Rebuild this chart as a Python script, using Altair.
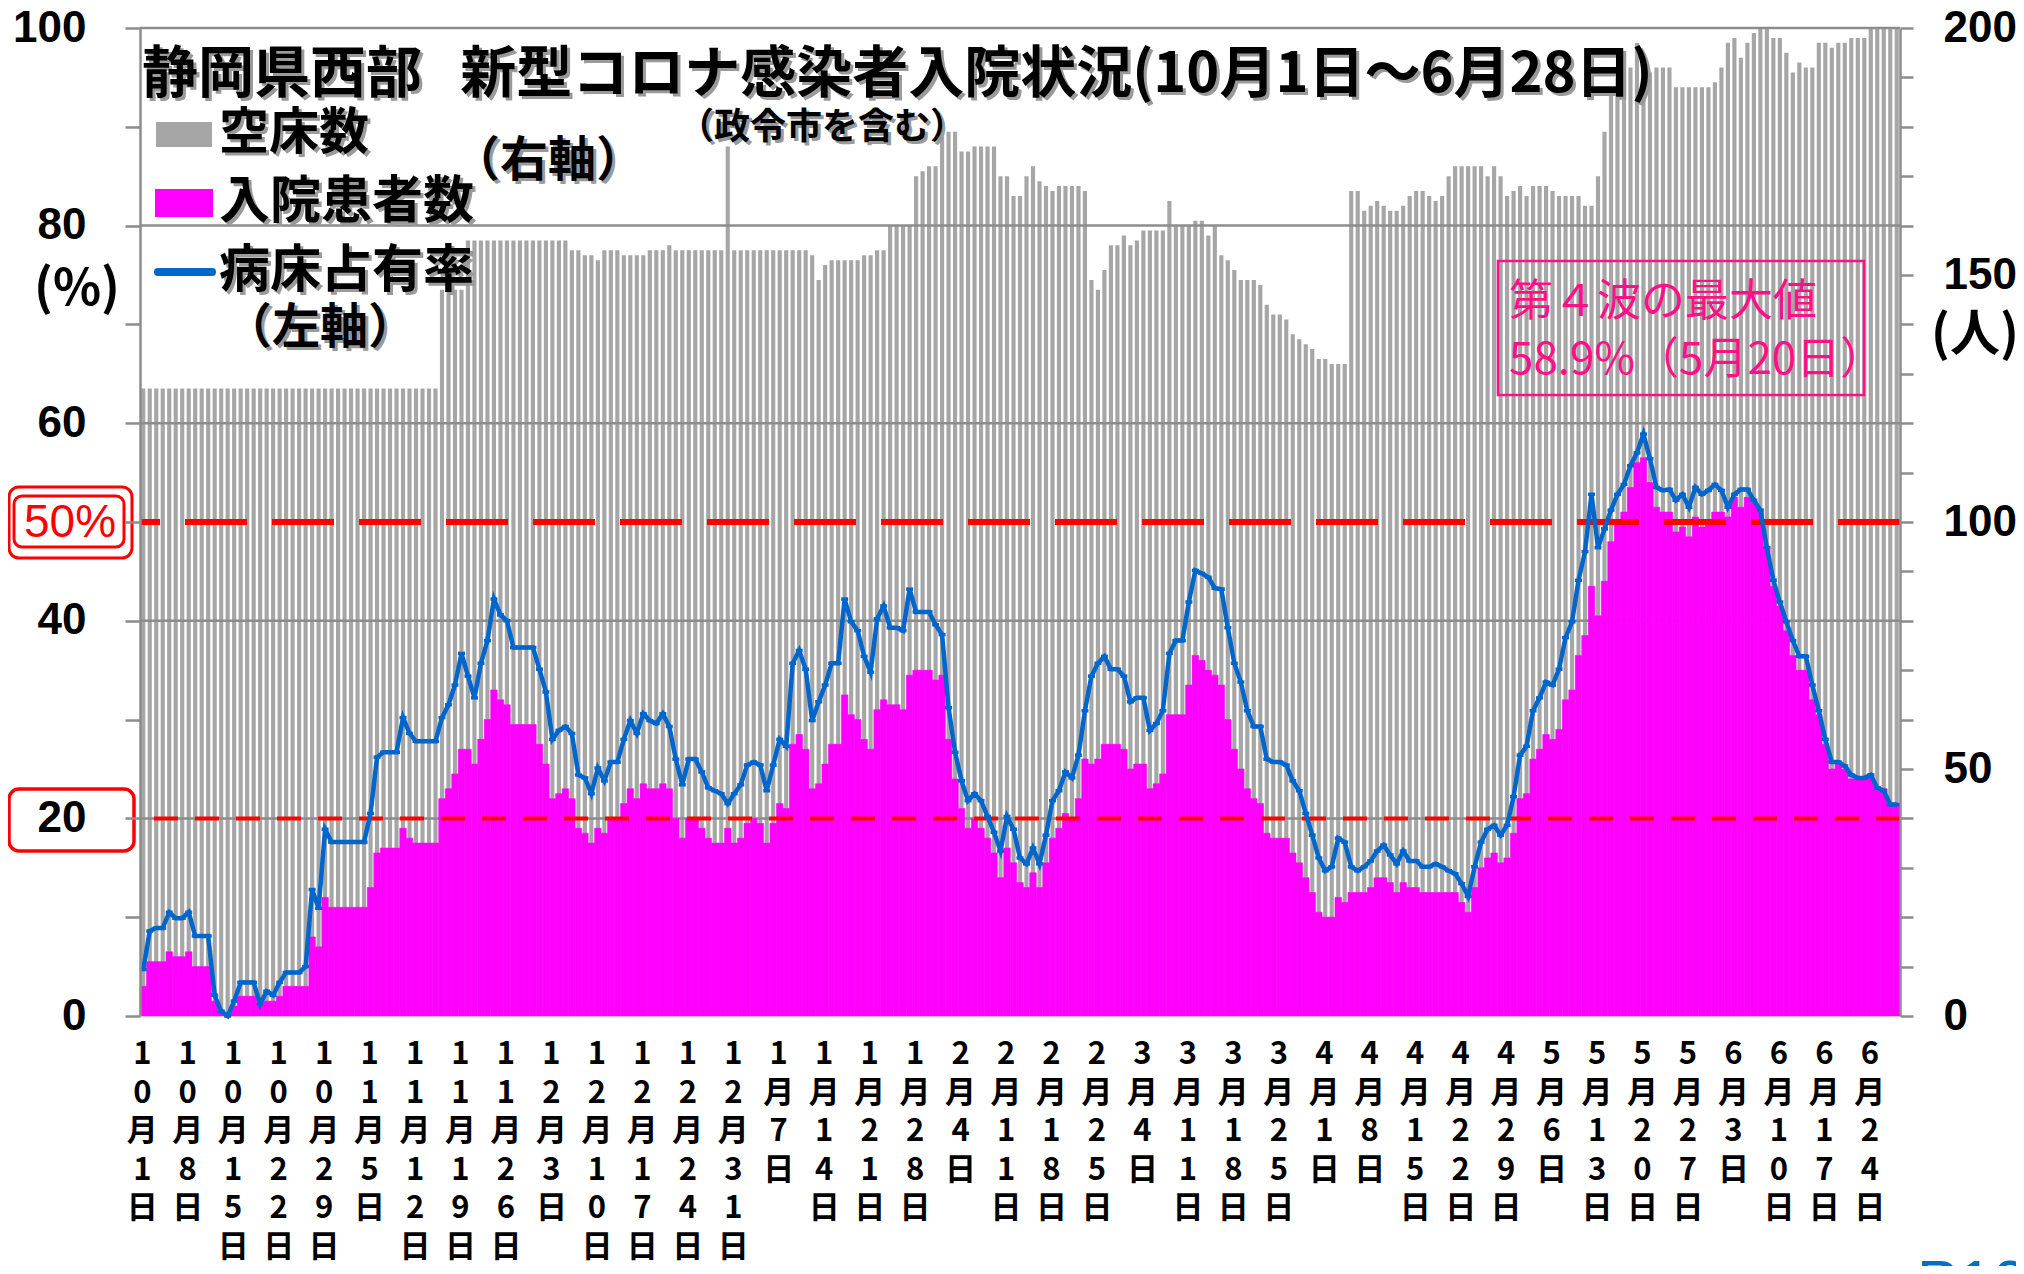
import altair as alt
import pandas as pd

# ---------------- data ----------------
rate = [
    4.7, 8.6, 8.9, 8.9, 10.5, 9.9, 9.9, 10.5, 8.1, 8.1,
    8.1, 2.1, 0.5, 0.0, 1.5, 3.4, 3.4, 3.4, 1.2, 2.5,
    2.1, 3.4, 4.4, 4.4, 4.4, 5.0, 12.8, 10.9, 18.9, 17.6,
    17.6, 17.6, 17.6, 17.6, 17.6, 20.5, 26.2, 26.7, 26.7, 26.7,
    30.2, 28.6, 27.8, 27.8, 27.8, 27.8, 30.2, 31.5, 33.5, 36.7,
    34.4, 32.2, 35.7, 38.0, 42.2, 40.6, 40.0, 37.3, 37.3, 37.3,
    37.3, 35.1, 32.8, 28.0, 28.9, 29.3, 28.6, 24.4, 24.1, 22.5,
    25.1, 23.8, 25.7, 25.7, 28.0, 29.9, 28.6, 30.6, 29.9, 29.6,
    30.6, 29.3, 26.0, 23.4, 26.0, 26.0, 24.7, 23.1, 22.8, 22.5,
    21.5, 22.5, 23.4, 25.4, 25.7, 25.4, 22.8, 25.4, 28.0, 27.3,
    35.7, 37.0, 35.1, 29.9, 31.8, 33.5, 35.7, 35.7, 42.2, 39.9,
    39.0, 36.4, 34.8, 40.2, 41.5, 39.3, 39.3, 39.0, 43.2, 40.9,
    40.9, 40.9, 39.6, 38.6, 31.2, 26.7, 23.8, 21.8, 22.5, 21.8,
    20.2, 18.6, 16.7, 20.2, 18.9, 16.0, 15.4, 17.0, 15.4, 18.3,
    21.8, 22.8, 24.7, 24.1, 26.4, 30.9, 34.4, 35.7, 36.4, 35.1,
    35.1, 34.4, 31.8, 32.2, 32.2, 28.9, 29.6, 30.9, 36.7, 38.0,
    38.0, 41.9, 45.1, 44.8, 44.4, 43.3, 43.2, 39.3, 35.7, 33.8,
    30.9, 29.3, 29.3, 26.0, 25.7, 25.7, 25.4, 23.8, 22.8, 20.5,
    18.3, 16.0, 14.7, 15.1, 18.0, 17.6, 15.1, 14.7, 15.1, 15.7,
    16.7, 17.3, 16.3, 15.4, 16.7, 15.7, 15.7, 15.1, 15.1, 15.4,
    15.1, 14.7, 14.4, 13.4, 12.1, 15.1, 17.6, 18.9, 19.3, 18.3,
    19.3, 22.2, 26.4, 27.3, 30.9, 32.2, 33.8, 33.5, 35.1, 38.3,
    39.9, 44.1, 47.0, 52.8, 47.4, 49.3, 51.2, 52.8, 53.8, 55.7,
    57.0, 58.9, 56.4, 53.5, 53.2, 53.3, 52.2, 52.8, 51.5, 53.5,
    52.8, 53.2, 53.8, 53.2, 51.5, 52.8, 53.3, 53.3, 52.2, 51.2,
    47.4, 44.1, 41.9, 39.9, 38.0, 36.4, 36.4, 33.5, 30.9, 28.0,
    25.7, 25.7, 25.3, 24.4, 24.1, 24.1, 24.4, 23.1, 22.8, 21.4,
    21.4,
]

capacity = [
    127, 127, 127, 127, 127, 127, 127, 127, 127, 127,
    127, 127, 127, 127, 127, 127, 127, 127, 127, 127,
    127, 127, 127, 127, 127, 127, 127, 127, 127, 127,
    127, 127, 127, 127, 127, 127, 127, 127, 127, 127,
    127, 127, 127, 127, 127, 127, 147, 147, 147, 147,
    157, 157, 157, 157, 157, 157, 157, 157, 157, 157,
    157, 157, 157, 157, 157, 157, 155, 155, 154, 154,
    153, 155, 155, 155, 154, 154, 154, 154, 155, 155,
    155, 156, 155, 155, 155, 155, 155, 155, 155, 155,
    176, 155, 155, 155, 155, 155, 155, 155, 155, 155,
    155, 155, 155, 154, 149, 152, 153, 153, 153, 153,
    153, 154, 154, 155, 155, 160, 160, 160, 160, 170,
    171, 172, 172, 178, 179, 179, 175, 175, 176, 176,
    176, 176, 170, 170, 166, 166, 170, 172, 169, 168,
    167, 168, 168, 168, 168, 167, 149, 147, 151, 156,
    156, 158, 156, 157, 159, 159, 159, 159, 165, 160,
    160, 160, 161, 161, 158, 160, 154, 153, 151, 149,
    149, 149, 148, 144, 142, 142, 141, 138, 137, 136,
    135, 133, 133, 132, 132, 132, 167, 167, 163, 164,
    165, 164, 163, 163, 164, 166, 167, 167, 166, 165,
    166, 170, 172, 172, 172, 172, 172, 170, 172, 170,
    166, 167, 168, 166, 168, 168, 168, 167, 166, 166,
    166, 166, 164, 164, 170, 179, 187, 190, 190, 192,
    197, 192, 191, 192, 192, 192, 188, 188, 188, 188,
    188, 188, 189, 192, 197, 198, 194, 197, 199, 200,
    200, 198, 198, 195, 191, 193, 192, 192, 197, 197,
    196, 197, 197, 198, 198, 198, 200, 200, 200, 200,
    200,
]

inpatients = [
    6, 11, 11, 11, 13, 12, 12, 13, 10, 10,
    10, 3, 1, 0, 2, 4, 4, 4, 2, 3,
    3, 4, 6, 6, 6, 6, 16, 14, 24, 22,
    22, 22, 22, 22, 22, 26, 33, 34, 34, 34,
    38, 36, 35, 35, 35, 35, 44, 46, 49, 54,
    54, 51, 56, 60, 66, 64, 63, 59, 59, 59,
    59, 55, 51, 44, 45, 46, 44, 38, 37, 35,
    38, 37, 40, 40, 43, 46, 44, 47, 46, 46,
    47, 46, 40, 36, 40, 40, 38, 36, 35, 35,
    38, 35, 36, 39, 40, 39, 35, 39, 43, 42,
    55, 57, 54, 46, 47, 51, 55, 55, 65, 61,
    60, 56, 54, 62, 64, 63, 63, 62, 69, 70,
    70, 70, 68, 69, 56, 48, 42, 38, 40, 38,
    36, 33, 28, 34, 31, 27, 26, 29, 26, 31,
    36, 38, 41, 40, 44, 52, 51, 52, 55, 55,
    55, 54, 50, 51, 51, 46, 47, 49, 61, 61,
    61, 67, 73, 72, 70, 69, 67, 60, 54, 50,
    46, 44, 43, 37, 36, 36, 36, 33, 31, 28,
    25, 21, 20, 20, 24, 23, 25, 25, 25, 26,
    28, 28, 27, 25, 27, 26, 26, 25, 25, 25,
    25, 25, 25, 23, 21, 26, 30, 32, 33, 31,
    32, 37, 44, 45, 52, 54, 57, 56, 58, 64,
    66, 73, 77, 87, 81, 88, 96, 100, 102, 107,
    112, 113, 108, 103, 102, 102, 98, 99, 97, 101,
    99, 100, 102, 102, 101, 105, 103, 105, 104, 102,
    95, 87, 83, 78, 73, 70, 70, 64, 61, 55,
    50, 51, 50, 48, 48, 48, 49, 46, 46, 43,
    43,
]

tick_days = [0, 7, 14, 21, 28, 35, 42, 49, 56, 63, 70, 77, 84, 91, 98, 105,
             112, 119, 126, 133, 140, 147, 154, 161, 168, 175, 182, 189, 196,
             203, 210, 217, 224, 231, 238, 245, 252, 259, 266]
tick_labels = ["10月1日", "10月8日", "10月15日", "10月22日", "10月29日",
               "11月5日", "11月12日", "11月19日", "11月26日", "12月3日",
               "12月10日", "12月17日", "12月24日", "12月31日", "1月7日",
               "1月14日", "1月21日", "1月28日", "2月4日", "2月11日",
               "2月18日", "2月25日", "3月4日", "3月11日", "3月18日",
               "3月25日", "4月1日", "4月8日", "4月15日", "4月22日",
               "4月29日", "5月6日", "5月13日", "5月20日", "5月27日",
               "6月3日", "6月10日", "6月17日", "6月24日"]

pct_ticks = [0, 10, 20, 30, 40, 50, 60, 70, 80, 90, 100]
ppl_ticks = [0, 10, 20, 30, 40, 50, 60, 70, 80, 90, 100, 110, 120, 130, 140,
             150, 160, 170, 180, 190, 200]
grid_values = [20, 40, 60, 80, 100]
threshold_50 = [50]
threshold_20 = [20]

# ---------------- chart ----------------
W, H = 1760, 988
FONT_LAT = "Liberation Sans"
FONT_CJK = "Noto Sans CJK JP"
GRAY = "#A6A6A6"
MAGENTA = "#FF00FF"
BLUE = "#0066CC"
RED = "#FF0000"
PINK = "#FF1088"
AXIS_GRAY = "#8C8C8C"

df = pd.DataFrame({"day": list(range(len(rate))), "rate": rate,
                   "cap": capacity, "inp": inpatients})

xscale = alt.Scale(domain=[0, 271], nice=False, zero=False)
pct = alt.Scale(domain=[0, 100], nice=False, zero=True)
ppl = alt.Scale(domain=[0, 200], nice=False, zero=True)

one = alt.Data(values=[{"a": 1}])

x_axis = alt.Axis(values=tick_days, labels=False, tickSize=11, tickWidth=2.5,
                  tickColor=AXIS_GRAY, domainColor=AXIS_GRAY, domainWidth=3,
                  grid=False, title=None, zindex=1)
right_axis = alt.Axis(orient="right", values=ppl_ticks,
                      labelExpr="datum.value % 50 === 0 ? datum.label : ''",
                      tickSize=13, tickWidth=2.5, tickColor=AXIS_GRAY,
                      domainColor=AXIS_GRAY, domainWidth=2.5, grid=False,
                      title=None, labelFont=FONT_LAT, labelFontSize=44,
                      labelFontWeight="bold", labelColor="black",
                      labelPadding=30, labelOverlap=False, zindex=1)
left_axis = alt.Axis(orient="left", values=pct_ticks,
                     labelExpr="datum.value % 20 === 0 ? datum.label : ''",
                     tickSize=15, tickWidth=2.5, tickColor=AXIS_GRAY,
                     domainColor=AXIS_GRAY, domainWidth=2.5, grid=False,
                     title=None, labelFont=FONT_LAT, labelFontSize=44,
                     labelFontWeight="bold", labelColor="black",
                     labelPadding=39, labelOverlap=False, zindex=1)

# empty beds + patients: gray column up to total beds (right axis)
gray_bars = alt.Chart(df).transform_calculate(
    xl="datum.day + 0.18", xr="datum.day + 0.82", base="0"
).mark_rect(color=GRAY).encode(
    x=alt.X("xl:Q", scale=xscale, axis=x_axis),
    x2="xr:Q",
    y=alt.Y("cap:Q", scale=ppl, axis=right_axis),
    y2="base:Q",
)

grid = alt.Chart(pd.DataFrame({"v": grid_values})).mark_rule(
    color=AXIS_GRAY, strokeWidth=2.5
).encode(y=alt.Y("v:Q", scale=pct, axis=None))

mag_bars = alt.Chart(df).transform_calculate(
    xl="datum.day", xr="datum.day + 1", base="0"
).mark_rect(color=MAGENTA, stroke=MAGENTA, strokeWidth=0.6).encode(
    x=alt.X("xl:Q", scale=xscale, axis=None),
    x2="xr:Q",
    y=alt.Y("inp:Q", scale=ppl, axis=None),
    y2="base:Q",
)

r50 = alt.Chart(pd.DataFrame({"v": threshold_50})).mark_rule(
    color=RED, strokeWidth=6, strokeDash=[62, 25]
).encode(y=alt.Y("v:Q", scale=pct, axis=None))

r20 = alt.Chart(pd.DataFrame({"v": threshold_20})).mark_rule(
    color=RED, strokeWidth=4, strokeDash=[24, 17]
).encode(y=alt.Y("v:Q", scale=pct, axis=None))

DASH = "M-1,-0.5L1,-0.5L1,0.5L-1,0.5Z"
line = alt.Chart(df).transform_calculate(xc="datum.day + 0.5").mark_line(
    color=BLUE, strokeWidth=4.5,
    point=alt.OverlayMarkDef(shape=DASH, size=49, filled=True, color=BLUE),
).encode(
    x=alt.X("xc:Q", scale=xscale, axis=None),
    y=alt.Y("rate:Q", scale=pct, axis=left_axis),
)

xlabels = alt.Chart(pd.DataFrame({"d": tick_days, "label": tick_labels})).transform_calculate(
    chars="split(datum.label, '')", xm="datum.d + 0.35"
).mark_text(font=FONT_CJK, fontSize=31, fontWeight="bold", lineHeight=38.5,
            baseline="top", align="center", color="black").encode(
    x=alt.X("xm:Q", scale=xscale, axis=None),
    y=alt.value(1012),
    text="chars:N",
)


def txt(text, x, y, size, color="black", weight="bold", align="left",
        font=FONT_CJK, shadow=False, baseline="middle"):
    layers = []
    if shadow:
        layers.append(alt.Chart(one).mark_text(
            text=text, font=font, fontSize=size, fontWeight=weight,
            align=align, baseline=baseline, color="#9A9A9A"
        ).encode(x=alt.value(x + 3), y=alt.value(y + 3)))
    layers.append(alt.Chart(one).mark_text(
        text=text, font=font, fontSize=size, fontWeight=weight,
        align=align, baseline=baseline, color=color
    ).encode(x=alt.value(x), y=alt.value(y)))
    return layers


def rect(x1, x2, y1, y2, fill=None, stroke=None, sw=0, radius=0):
    kw = dict(cornerRadius=radius)
    if fill is None:
        kw["fillOpacity"] = 0
        kw["fill"] = "white"
    else:
        kw["fill"] = fill
    if stroke is not None:
        kw["stroke"] = stroke
        kw["strokeWidth"] = sw
    return alt.Chart(one).mark_rect(**kw).encode(
        x=alt.value(x1), x2=alt.value(x2), y=alt.value(y1), y2=alt.value(y2))


NBSP = "\u00a0"
extras = []
# title & subtitle
extras += txt("静岡県西部" + NBSP * 3 + "新型コロナ感染者入院状況(10月1日～6月28日)",
              2, 47, 56, shadow=True)
extras += txt("（政令市を含む）", 682, 100, 36, align="center", shadow=True)
# legend
extras.append(rect(16, 72, 94, 119, fill=GRAY))
extras.append(rect(15, 73, 161, 189, fill=MAGENTA))
extras.append(alt.Chart(one).mark_rule(color=BLUE, strokeWidth=8, strokeCap="round").encode(
    x=alt.value(18), x2=alt.value(72), y=alt.value(244)))
extras += txt("空床数", 79, 106, 50, shadow=True)
extras += txt("入院患者数", 79, 175, 51, shadow=True)
extras += txt("（右軸）", 408, 134, 48, align="center", shadow=True)
extras += txt("病床占有率", 79, 244, 51, shadow=True)
extras += txt("（左軸）", 180, 301, 48, align="center", shadow=True)
# axis unit labels
extras += txt("(%)", -63, 262, 50, align="center")
extras += txt("(人)", 1835, 308, 50, align="center")
# peak annotation
extras.append(rect(1358, 1724, 233, 367, stroke=PINK, sw=2.5))
extras += txt("第４波の最大値", 1369, 275, 44, color=PINK, weight="normal")
extras += txt("58.9%（5月20日）", 1369, 333, 44, color=PINK, weight="normal")
# threshold boxes on the left
extras.append(rect(-131, -8, 459, 530, fill="white", stroke=RED, sw=3, radius=10))
extras.append(rect(-126, -16, 468, 519, stroke=RED, sw=3, radius=8))
extras += txt("50%", -70, 495, 46, color=RED, weight="normal", align="center", font=FONT_LAT)
extras.append(rect(-131, -6, 761, 823, stroke=RED, sw=3.5, radius=10))
# page number peeking in at the bottom-right corner
extras += txt("P10", 1777, 1226, 62, color="#0070C0", weight="normal",
              font=FONT_LAT, baseline="top")

chart = alt.layer(
    gray_bars, grid, mag_bars, r50, r20, line, xlabels, *extras
).resolve_scale(y="independent").properties(
    width=W, height=H,
    autosize=alt.AutoSizeParams(type="none"),
    padding={"left": 132, "top": 20, "right": 116, "bottom": 250},
    background="white",
).configure_view(stroke=None)

chart.save("out.html", embed_options={"renderer": "svg", "actions": False})
